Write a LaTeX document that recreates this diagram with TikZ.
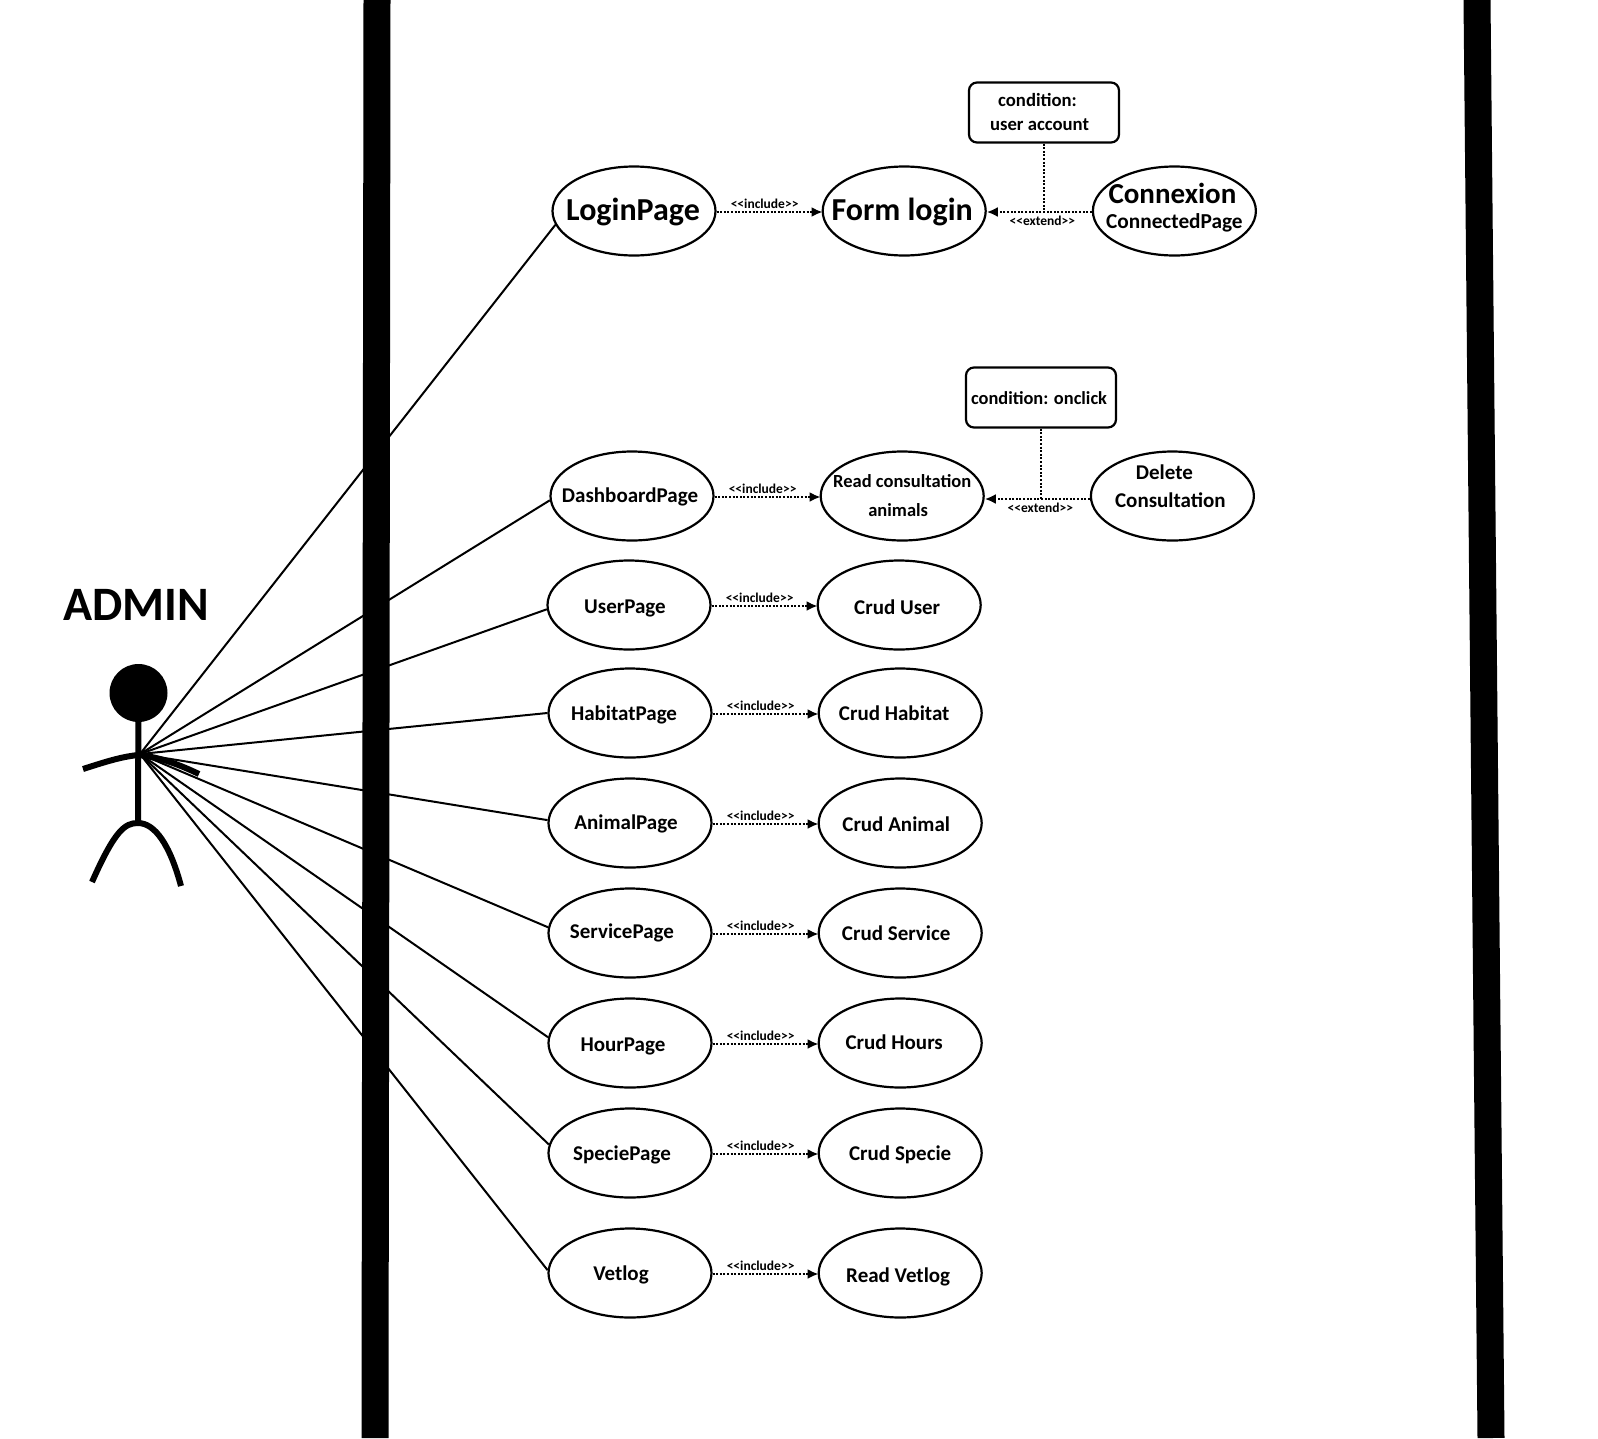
\documentclass[tikz,border=0pt]{standalone}
\usepackage{fontspec}
\setmainfont{Carlito}
\usetikzlibrary{positioning, arrows.meta, shapes.geometric}
\newcommand{\tx}[4][21]{\raisebox{#3pt}[0pt][0pt]{\makebox[0pt]{\kern#2pt\kern#2pt\fontsize{#1}{#1}\selectfont #4}}}
\tikzset{
  usecase/.style = {draw=black, fill=white, ellipse, line width=2.2pt, inner sep=0pt,
                    minimum width=163pt, minimum height=89pt, font=\bfseries},
  note/.style    = {draw=black, fill=white, rounded corners=8pt, line width=2.2pt, inner sep=0pt,
                    minimum width=150pt, minimum height=60pt, font=\bfseries},
  assoc/.style   = {draw=black, line width=2pt},
  limb/.style    = {draw=black, line width=6pt},
  wall/.style    = {draw=black, line width=27pt},
  fl/.style      = {-{Latex[length=11pt,width=10pt]}, draw=black, line width=2.2pt, dash pattern=on 2pt off 1.6pt},
  fld/.style     = {draw=black, line width=2.2pt, dash pattern=on 2pt off 1.6pt},
  lbl/.style     = {font=\bfseries\fontsize{13.5}{13.5}\selectfont, inner sep=1.5pt}
}
\begin{document}
\begin{tikzpicture}[x=1pt, y=-1pt, node distance=105pt]
  \useasboundingbox (0,0) rectangle (1598,1438);
  % actor
  \coordinate (hub) at (140,754);
  \node[font=\bfseries, inner sep=0pt] (admin) at (136.5,604) {\tx[48]{0}{-16}{ADMIN}};
  \node[circle, fill=black, minimum size=58pt, inner sep=0pt] (head) at (138.5,693) {};
  \coordinate (hip) at (138,823);
  \draw[limb] (head) -- (hip);
  \draw[limb] (83,769) .. controls (105,762) and (120,757) .. (138,755) .. controls (160,757) and (180,765) .. (199,774);
  \draw[limb] (92,882) .. controls (115,830) and (125,823) .. (hip) .. controls (155,823) and (170,845) .. (181,886);
  % use cases
  \node[usecase] (login) at (634,211) {\tx[32]{-1}{-9}{LoginPage}};
  \node[usecase, right=of login] (form) {\tx[32]{-2}{-9}{Form login}};
  \node[usecase, right=of form] (connexion) {\tx[29]{-2}{8}{Connexion}\tx[21.3]{0}{-17}{ConnectedPage}};
  \node[usecase] (dashboard) at (632,496) {\tx{-2}{-6}{DashboardPage}};
  \node[usecase, right=of dashboard] (consult) {\tx[18.5]{0}{9}{Read consultation}\tx[18.5]{-4}{-20}{animals}};
  \node[usecase, right=of consult] (delete) {\tx{-8}{17}{Delete}\tx{-2}{-11}{Consultation}};
  \node[usecase] (user) at (629,605) {\tx{-4}{-8}{UserPage}};
  \node[usecase, right=of user] (cuser) {\tx{-2}{-9}{Crud User}};
  \node[usecase] (habitat) at (630,713) {\tx{-6}{-7}{HabitatPage}};
  \node[usecase, right=of habitat] (chabitat) {\tx{-6}{-7}{Crud Habitat}};
  \node[usecase] (animal) at (630,823) {\tx{-4}{-6}{AnimalPage}};
  \node[usecase, right=of animal] (canimal) {\tx{-4}{-8}{Crud Animal}};
  \node[usecase] (service) at (630,933) {\tx{-8}{-5}{ServicePage}};
  \node[usecase, right=of service] (cservice) {\tx{-4}{-7}{Crud Service}};
  \node[usecase] (hour) at (630,1043) {\tx{-7}{-8}{HourPage}};
  \node[usecase, right=of hour] (chour) {\tx{-6}{-6}{Crud Hours}};
  \node[usecase] (specie) at (630,1153) {\tx{-8}{-7}{SpeciePage}};
  \node[usecase, right=of specie] (cspecie) {\tx{0}{-7}{Crud Specie}};
  \node[usecase] (vetlog) at (630,1273) {\tx{-9}{-7}{Vetlog}};
  \node[usecase, right=of vetlog] (rvetlog) {\tx{-2}{-9}{Read Vetlog}};
  % conditions
  \node[note] (cond1) at (1044,112.5) {\tx[18.7]{-6.5}{6}{condition:}\tx[18.7]{-4.5}{-18}{user account}};
  \node[note] (cond2) at (1041,397.5) {\tx[18.4]{-2}{-6.5}{condition: onclick}};
  % connectors
  \foreach \a/\ang in {login/190, dashboard/183, user/183, habitat/180, animal/178, service/176, hour/176, specie/174, vetlog/178}
    \draw[assoc] (hub) -- (\a.\ang);
  \foreach \a/\b in {login/form, dashboard/consult, user/cuser, habitat/chabitat, animal/canimal, service/cservice, hour/chour, specie/cspecie, vetlog/rvetlog}
    \draw[fl] ([yshift=-1pt]\a.east) -- node[lbl, above=1pt, xshift=-5pt] {<{}<include>{}>} ([xshift=1pt, yshift=-1pt]\b.west);
  \foreach \a/\b/\n/\dy in {connexion/form/cond1/-1, delete/consult/cond2/-3} {
    \coordinate (e\n) at ([yshift=\dy pt]\b.east);
    \draw[fl] ([yshift=\dy pt]\a.west) -- node[lbl, below=1pt, xshift=3pt] {<{}<extend>{}>} (e\n);
    \draw[fld] (\n) -- (\n.south |- e\n);
  }
  % system boundary
  \draw[wall] (377,0) -- (375,1438);
  \draw[wall] (1477,0) -- (1491,1438);
\end{tikzpicture}
\end{document}
